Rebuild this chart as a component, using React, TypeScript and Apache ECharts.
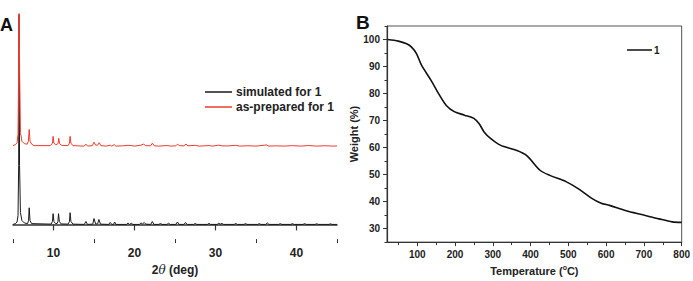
import React, { useEffect, useRef } from "react";
import * as echarts from "echarts";

// Panel A: XRD patterns (2θ in deg, intensity above each trace's own baseline)
const simulatedPattern: [number, number][] = [
  [5, 0], [5.3, 0.8], [5.5, 2.5], [5.62, 9], [5.7, 60], [5.75, 214], [5.81, 60], [5.92, 12], [6.1, 4], [6.4, 1.5],
  [6.8, 0.8], [6.92, 4], [7.0, 17], [7.1, 4], [7.3, 0.8],
  [9.7, 0.3], [9.87, 3], [9.95, 11], [10.05, 3], [10.25, 0.8], [10.45, 1], [10.55, 3], [10.62, 11], [10.72, 3], [10.95, 0.5],
  [11.8, 0.3], [11.97, 3], [12.05, 12], [12.15, 3], [12.4, 0.3],
  [13.8, 0], [14.0, 3], [14.2, 0], [14.85, 0.3], [15.0, 6], [15.2, 0.5], [15.45, 0.5], [15.6, 5], [15.8, 0.3],
  [16.8, 0], [17.0, 2], [17.2, 0], [17.4, 0], [17.55, 2.5], [17.7, 0], [19.0, 0], [19.2, 1.5], [19.4, 0],
  [19.6, 1.2], [19.8, 0], [20.6, 0], [20.8, 1.5], [21.0, 0.5], [21.2, 2], [21.4, 0.3], [22.0, 0], [22.2, 3],
  [22.4, 0], [23.0, 0], [23.2, 1], [23.4, 0], [24.0, 0], [24.2, 1.2], [24.4, 0], [25.1, 0], [25.3, 2.5],
  [25.5, 0], [26.1, 0], [26.3, 2], [26.5, 0], [27.3, 0], [27.5, 1], [27.7, 0], [29, 0], [29.2, 1], [29.4, 0],
  [30.2, 0], [30.4, 1.2], [30.6, 0.3], [30.8, 1], [31, 0], [32.3, 0], [32.5, 1], [32.7, 0], [33.5, 0],
  [33.7, 0.8], [33.9, 0], [35.2, 0], [35.4, 0.8], [35.6, 0], [36.2, 0], [36.4, 1.5], [36.6, 0], [37.8, 0],
  [38, 0.8], [38.2, 0], [39.3, 0], [39.5, 0.8], [39.7, 0], [40.8, 0], [41, 0.8], [41.2, 0], [42.3, 0],
  [42.5, 0.7], [42.7, 0], [44, 0], [44.2, 0.6], [44.4, 0], [45, 0],
];

const preparedPattern: [number, number][] = [
  [5, 0.5], [5.3, 1.5], [5.5, 3.5], [5.62, 12], [5.7, 80], [5.75, 230], [5.81, 80], [5.92, 14], [6.1, 5], [6.4, 2.5],
  [6.75, 2], [6.9, 5], [7.0, 17], [7.1, 5], [7.3, 2], [7.6, 0.5],
  [9.6, 0.5], [9.87, 3], [9.95, 10], [10.05, 3], [10.25, 1.5], [10.45, 1.8], [10.57, 3], [10.65, 8], [10.75, 2.5], [11.0, 0.8],
  [11.8, 0.5], [11.97, 3], [12.05, 10], [12.15, 3], [12.4, 0.5],
  [13.8, 0], [14.0, 2], [14.2, 0], [14.8, 0.5], [15.0, 4], [15.2, 1], [15.45, 1], [15.65, 3.5],
  [15.85, 0.5], [16.5, 0], [17.0, 1], [17.2, 0], [17.5, 1.5], [17.7, 0], [18.5, 0.3], [19.2, 0.8], [19.6, 0.6],
  [20.0, 0], [20.8, 1], [21.1, 2], [21.4, 0.5], [22.0, 0.3], [22.2, 3], [22.45, 0.3], [23.0, 0], [24.0, 0.6],
  [24.5, 0], [25.1, 0.3], [25.3, 2], [25.55, 0.5], [26.1, 0.3], [26.35, 2], [26.6, 0.3], [27.5, 0.8], [28, 0],
  [29.2, 0.6], [29.6, 0], [30.4, 1], [30.8, 0.3], [31.5, 0.2], [32.5, 0.8], [33, 0], [34, 0.4], [35, 0],
  [36.3, 1.2], [36.6, 0], [37.5, 0.3], [38.5, 0], [39.5, 0.5], [40.5, 0], [41.5, 0.6], [42.5, 0], [43.5, 0.4],
  [44.5, 0], [45, 0.2],
];
const preparedOffset = 80;

const xrdMajorTicks = [10, 20, 30, 40];
const xrdMinorTicks = [5, 15, 25, 35, 45];

// Panel B: TGA curve (temperature °C, weight %)
const tgaCurve: [number, number][] = [
  [22, 100], [50, 99.4], [72, 98.4], [85, 97.2], [98, 94.8], [111, 90.6], [137, 84.8], [159, 79.4],
  [177, 75.6], [198, 73.3], [225, 72.0], [250, 70.8], [264, 68.8], [277, 65.8], [294, 63.4], [320, 60.9],
  [364, 58.9], [390, 57.0], [425, 51.6], [451, 49.7], [495, 47.3], [526, 44.8], [561, 41.3], [587, 39.4],
  [609, 38.6], [653, 36.6], [697, 35.1], [740, 33.6], [775, 32.5], [800, 32.3],
];
const tempMajorTicks = [100, 200, 300, 400, 500, 600, 700, 800];
const tempMinorTicks = [50, 150, 250, 350, 450, 550, 650, 750];
const weightMajorTicks = [30, 40, 50, 60, 70, 80, 90, 100];
const weightMinorTicks = [25, 35, 45, 55, 65, 75, 85, 95, 105];

const FONT = "'Liberation Sans', Arial, sans-serif";
const AX = "#333";

export default function App() {
  const ref = useRef<HTMLDivElement>(null);
  useEffect(() => {
    if (!ref.current) return;
    const chart = echarts.init(ref.current, null, { renderer: "svg" });
    const tickOnly = (gridIndex: number, min: number, max: number, values: number[], len: number, pos: string) => ({
      type: "value", gridIndex, min, max, position: pos,
      axisLine: { show: false }, axisLabel: { show: false }, splitLine: { show: false },
      axisTick: { show: true, customValues: values, length: len, lineStyle: { color: AX, width: 1 } },
    });
    chart.setOption({
      animation: false,
      textStyle: { fontFamily: FONT },
      grid: [
        { left: 13, top: 14, width: 324, height: 230, show: false },
        { left: 387, top: 26, width: 297, height: 217, show: true, borderColor: "#555", borderWidth: 1, backgroundColor: "transparent" },
      ],
      xAxis: [
        {
          type: "value", gridIndex: 0, min: 5, max: 45, position: "bottom",
          name: "{n|2}{i|θ}{n| (deg)}", nameLocation: "middle", nameGap: 22,
          nameTextStyle: { rich: { n: { fontSize: 12, fontWeight: "bold", color: "#222", fontFamily: FONT }, i: { fontSize: 12, fontStyle: "italic", color: "#222", fontFamily: "'DejaVu Serif', serif" } } },
          axisLine: { lineStyle: { color: AX, width: 1.5 } },
          axisTick: { customValues: xrdMajorTicks, length: 6, lineStyle: { color: AX, width: 1.2 } },
          axisLabel: { customValues: xrdMajorTicks, fontSize: 12, fontWeight: "bold", color: "#222", margin: 8 },
          splitLine: { show: false },
        },
        tickOnly(0, 5, 45, xrdMinorTicks, 4, "bottom"),
        {
          type: "value", gridIndex: 1, min: 20, max: 800, position: "bottom",
          name: "Temperature ({s|o}C)", nameLocation: "middle", nameGap: 20,
          nameTextStyle: { fontSize: 11, fontWeight: "bold", color: "#222", rich: { s: { fontSize: 7, fontWeight: "bold", color: "#222", verticalAlign: "top", padding: [0, 0, 6, 0] } } },
          axisLine: { lineStyle: { color: AX, width: 1.2 } },
          axisTick: { customValues: tempMajorTicks, length: 4, lineStyle: { color: AX, width: 1 } },
          axisLabel: { customValues: tempMajorTicks, fontSize: 10, fontWeight: "bold", color: "#222", margin: 7 },
          splitLine: { show: false },
        },
        tickOnly(1, 20, 800, tempMinorTicks, 3, "bottom"),
      ],
      yAxis: [
        { type: "value", gridIndex: 0, min: -15, max: 215, show: false },
        {
          type: "value", gridIndex: 1, min: 25, max: 105, position: "left",
          name: "Weight (%)", nameLocation: "middle", nameGap: 24,
          nameTextStyle: { fontSize: 11, fontWeight: "bold", color: "#222" },
          axisLine: { show: true, lineStyle: { color: AX, width: 1.2 } },
          axisTick: { show: true, customValues: weightMajorTicks, length: 4, lineStyle: { color: AX, width: 1 } },
          axisLabel: { customValues: weightMajorTicks, fontSize: 10, fontWeight: "bold", color: "#222", margin: 7 },
          splitLine: { show: false },
        },
        tickOnly(1, 25, 105, weightMinorTicks, 2.5, "left"),
      ],
      legend: [
        {
          data: ["simulated for 1", "as-prepared for 1"], orient: "vertical", left: 200, top: 80,
          itemWidth: 27, itemHeight: 1.5, itemGap: 1, icon: "rect",
          textStyle: { fontSize: 12, fontWeight: "bold", color: "#222", padding: [0, 0, 0, -1], lineHeight: 14 },
        },
        {
          data: ["1"], orient: "vertical", left: 622, top: 40,
          itemWidth: 25, itemHeight: 1.5, icon: "rect",
          textStyle: { fontSize: 10, fontWeight: "bold", color: "#222", padding: [0, 0, 0, -3] },
        },
      ],
      series: [
        {
          name: "simulated for 1", type: "line", xAxisIndex: 0, yAxisIndex: 0, showSymbol: false,
          data: simulatedPattern, lineStyle: { color: "#1a1a1a", width: 1 }, itemStyle: { color: "#1a1a1a" }, clip: true,
        },
        {
          name: "as-prepared for 1", type: "line", xAxisIndex: 0, yAxisIndex: 0, showSymbol: false,
          data: preparedPattern.map(([x, y]) => [x, y + preparedOffset]),
          lineStyle: { color: "#ee3b2c", width: 1 }, itemStyle: { color: "#ee3b2c" }, clip: true,
        },
        {
          name: "1", type: "line", xAxisIndex: 2, yAxisIndex: 1, showSymbol: false, smooth: 0.3,
          data: tgaCurve, lineStyle: { color: "#111", width: 1.6 }, itemStyle: { color: "#111" },
        },
      ],
      graphic: [
        { type: "text", left: 0, top: 16, style: { text: "A", font: `bold 18px ${FONT}`, fill: "#111" } },
        { type: "text", left: 356, top: 13, style: { text: "B", font: `bold 19px ${FONT}`, fill: "#111" } },
      ],
    });
    return () => chart.dispose();
  }, []);
  return <div ref={ref} style={{ width: 693, height: 281, position: "absolute", left: 0, top: 0 }} />;
}
